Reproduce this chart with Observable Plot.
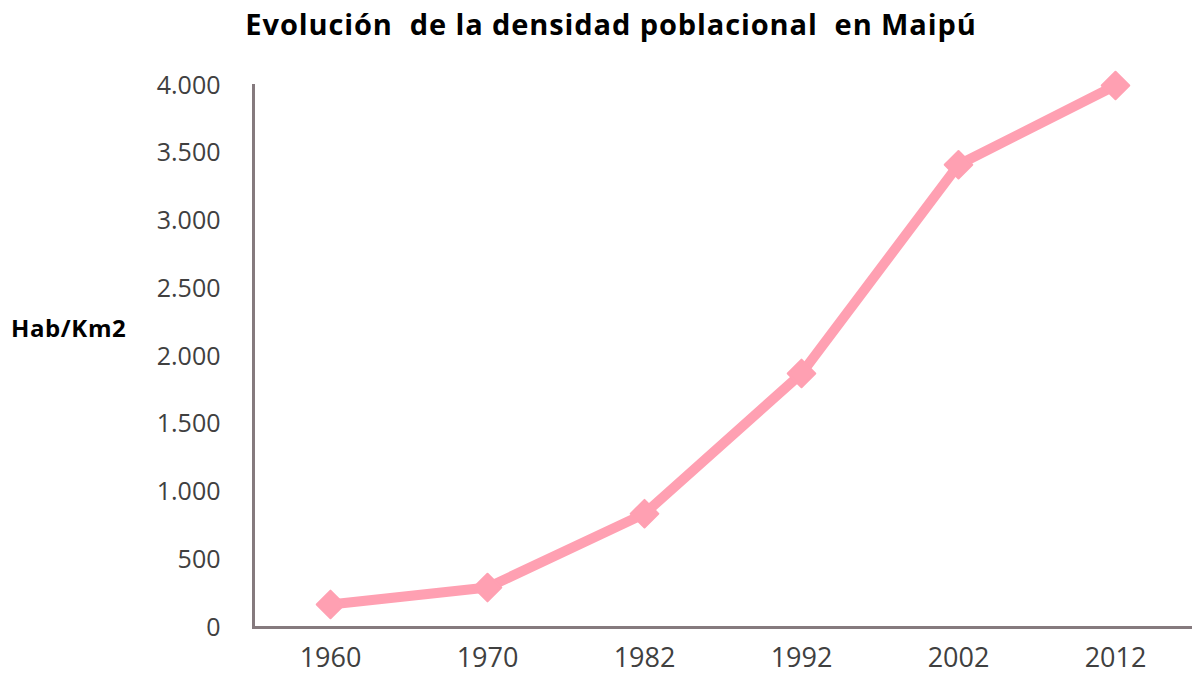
<!DOCTYPE html>
<html>
<head>
<meta charset="utf-8">
<script src="https://cdn.jsdelivr.net/npm/d3@7"></script>
<script src="https://cdn.jsdelivr.net/npm/@observablehq/plot@0.6"></script>
<style>
  html, body { margin: 0; padding: 0; background: #fff; }
  #wrap { position: relative; width: 1192px; height: 677px; font-family: "Open Sans", "Noto Sans", sans-serif; }
  #title { position: absolute; left: 0; top: 4px; width: 1222px; text-align: center; font-weight: bold; font-size: 29px; letter-spacing: 0.9px; color: #000; white-space: nowrap; }
  #ylab { position: absolute; left: 11px; top: 311px; font-weight: bold; font-size: 24px; letter-spacing: 0.6px; color: #000; }
  #chart { position: absolute; left: 0; top: 57px; }
</style>
</head>
<body>
<div id="wrap">
  <div id="title">Evolución&nbsp; de la densidad poblacional&nbsp; en Maipú</div>
  <div id="ylab">Hab/Km2</div>
  <div id="chart"></div>
</div>
<script>
const years = ["1960", "1970", "1982", "1992", "2002", "2012"];
const density = [170, 295, 840, 1875, 3415, 4000];
const yTicks = [0, 500, 1000, 1500, 2000, 2500, 3000, 3500, 4000];
const yTickLabels = ["0", "500", "1.000", "1.500", "2.000", "2.500", "3.000", "3.500", "4.000"];

const data = years.map((y, i) => ({year: y, value: density[i]}));
const lineColor = "#ffa0b2";
const axisColor = "#857a7e";

const plot = Plot.plot({
  width: 1192,
  height: 620,
  marginLeft: 253,
  marginRight: 0,
  marginTop: 28,
  marginBottom: 50,
  style: {fontFamily: "'Open Sans', 'Noto Sans', sans-serif", fontSize: "25px", color: "#404040", background: "transparent"},
  x: {type: "point", domain: years, padding: 0.475, label: null},
  y: {domain: [0, 4000], label: null},
  marks: [
    Plot.axisY({ticks: yTicks, tickFormat: (d) => yTickLabels[yTicks.indexOf(d)], tickSize: 0, tickPadding: 33, label: null, fontSize: 25}),
    Plot.axisX({tickSize: 0, tickPadding: 20, label: null, fontSize: 27}),
    Plot.frame({anchor: "left", stroke: axisColor, strokeWidth: 3}),
    Plot.ruleY([0], {stroke: axisColor, strokeWidth: 3}),
    Plot.line(data, {x: "year", y: "value", stroke: lineColor, strokeWidth: 10, strokeLinejoin: "round"}),
    Plot.dot(data, {x: "year", y: "value", symbol: "square", rotate: 45, r: 11, fill: lineColor, stroke: lineColor, strokeWidth: 2, strokeLinejoin: "round"})
  ]
});
document.getElementById("chart").appendChild(plot);
</script>
</body>
</html>
